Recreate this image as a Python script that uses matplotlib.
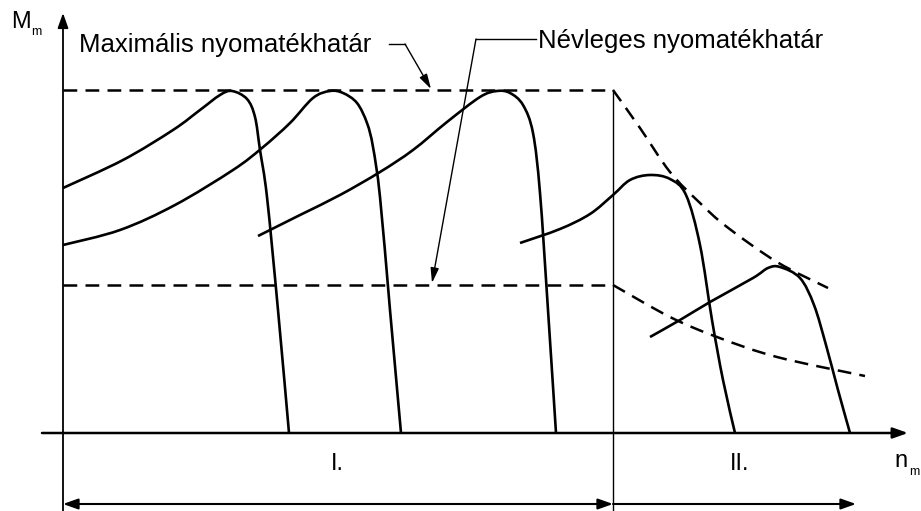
import numpy as np
import matplotlib
matplotlib.use('Agg')
from matplotlib import pyplot as plt
from matplotlib.path import Path
from matplotlib.patches import PathPatch, FancyArrowPatch

plt.rcParams['font.family'] = ['Liberation Sans', 'DejaVu Sans']

# drawing units: x = speed axis, y = torque axis measured downward from the top edge
X0, Y0 = 63, 433          # origin of the axes
X_BREAK = 613             # border of region I. / II.
M_MAX, M_NOM = 90, 285    # max and nominal torque limit levels

# torque-speed curves (points along each characteristic)
curve1 = [(63, 188), (123, 160), (173, 130), (200, 110), (220, 95), (232, 91), (247, 99),
          (255, 117), (260, 150), (267, 197), (278, 310), (289, 433)]
curve2 = [(63, 245), (120, 230), (175, 205), (233, 170), (262, 148), (290, 123), (313, 98),
          (330, 91), (343, 93), (357, 103), (367, 123), (373, 147), (380, 197), (390, 310),
          (401, 433)]
curve3 = [(258, 236), (300, 215), (340, 195), (380, 172), (413, 150), (447, 122), (480, 97),
          (497, 91), (510, 93), (523, 105), (533, 133), (540, 193), (548, 310), (556, 433)]
curve4 = [(520, 243), (560, 229), (590, 214), (613, 195), (630, 180), (650, 175), (670, 179),
          (686, 195), (700, 245), (712, 320), (723, 380), (735, 433)]
curve5 = [(650, 337), (680, 320), (710, 302), (753, 278), (768, 268), (780, 267), (800, 278),
          (814, 305), (826, 345), (838, 390), (850, 433)]

# field-weakening limits beyond the base speed
limit_max = [(613, 90), (640, 128), (670, 172), (700, 203), (727, 227), (777, 262), (828, 288)]
limit_nom = [(613, 285), (670, 317), (717, 337), (777, 357), (865, 376)]


def smooth_path(pts):
    # Catmull-Rom through the points, handed to matplotlib as cubic Bezier segments
    p = np.array(pts, dtype=float)
    ext = np.vstack([p[0], p, p[-1]])
    verts = [tuple(p[0])]
    codes = [Path.MOVETO]
    for i in range(1, len(ext) - 2):
        c1 = ext[i] + (ext[i + 1] - ext[i - 1]) / 6
        c2 = ext[i + 1] - (ext[i + 2] - ext[i]) / 6
        verts += [tuple(c1), tuple(c2), tuple(ext[i + 1])]
        codes += [Path.CURVE4] * 3
    return Path(verts, codes)


fig = plt.figure(figsize=(9.21, 5.11), dpi=100)
ax = fig.add_axes([0, 0, 1, 1])
ax.set_xlim(0, 921)
ax.set_ylim(511, 0)
ax.axis('off')

dash = (0, (5.5, 3.3))
head = '-|>,head_length=0.9,head_width=0.32'

# axes
ax.annotate('', xy=(X0, 13), xytext=(X0, 511),
            arrowprops=dict(arrowstyle=head, lw=1.3, color='black', shrinkA=0, shrinkB=0))
ax.annotate('', xy=(908, Y0), xytext=(42, Y0),
            arrowprops=dict(arrowstyle=head, lw=1.8, color='black', shrinkA=0, shrinkB=0))
ax.plot([X_BREAK, X_BREAK], [M_MAX, 511], color='black', lw=1.0)

# torque limits
ax.plot([X0, X_BREAK], [M_MAX, M_MAX], color='black', lw=1.8, ls=dash)
ax.plot([X0, X_BREAK], [M_NOM, M_NOM], color='black', lw=1.8, ls=dash)
for lim in (limit_max, limit_nom):
    ax.add_patch(PathPatch(smooth_path(lim), fill=False, color='black', lw=1.8, ls=dash))

# characteristics
for c in (curve1, curve2, curve3, curve4, curve5):
    ax.add_patch(PathPatch(smooth_path(c), fill=False, color='black', lw=1.9,
                           capstyle='butt', joinstyle='round'))

# region arrows
ax.add_patch(FancyArrowPatch((X0, 504), (X_BREAK, 504), arrowstyle='<|-|>,head_length=0.9,head_width=0.32',
                             mutation_scale=10, lw=1.5, color='black', shrinkA=0, shrinkB=0))
ax.add_patch(FancyArrowPatch((X_BREAK, 504), (856, 504), arrowstyle=head,
                             mutation_scale=10, lw=1.5, color='black', shrinkA=0, shrinkB=0))
ax.text(337, 470, 'I.', fontsize=17, ha='center', va='baseline')
ax.text(740, 470, 'II.', fontsize=17, ha='center', va='baseline')

# axis labels
ax.text(11, 28, 'M', fontsize=17, ha='left', va='baseline')
ax.text(31, 35, 'm', fontsize=9, ha='left', va='baseline')
ax.text(894, 467, 'n', fontsize=17, ha='left', va='baseline')
ax.text(909, 475, 'm', fontsize=9, ha='left', va='baseline')

# callouts
ax.text(79, 52, 'Maximális nyomatékhatár', fontsize=18.5, ha='left', va='baseline')
ax.plot([389, 405], [44, 44], color='black', lw=1.0)
ax.annotate('', xy=(431, 89), xytext=(405, 44),
            arrowprops=dict(arrowstyle='-|>,head_length=0.9,head_width=0.25', lw=1.0,
                            color='black', shrinkA=0, shrinkB=0))
ax.text(538, 48, 'Névleges nyomatékhatár', fontsize=18.5, ha='left', va='baseline')
ax.plot([476, 536], [39, 39], color='black', lw=1.0)
ax.annotate('', xy=(432, 283), xytext=(476, 39),
            arrowprops=dict(arrowstyle='-|>,head_length=0.9,head_width=0.25', lw=1.0,
                            color='black', shrinkA=0, shrinkB=0))

fig.savefig('out.png', dpi=100)
